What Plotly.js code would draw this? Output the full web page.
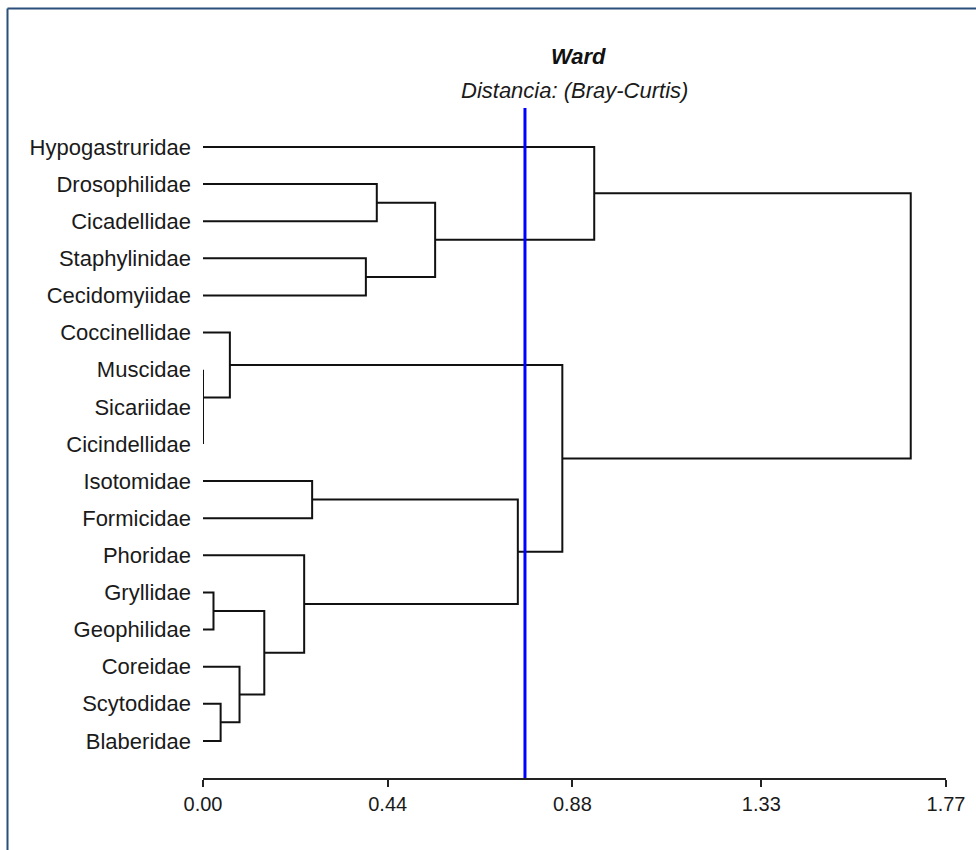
<!DOCTYPE html>
<html>
<head>
<meta charset="utf-8">
<script src="https://cdn.plot.ly/plotly-3.0.1.min.js"></script>
<style>html,body{margin:0;padding:0;background:#fff;}#chart{width:976px;height:850px;}</style>
</head>
<body>
<div id="chart"></div>
<script>
// Leaf labels, top to bottom
const leafLabels = ["Hypogastruridae","Drosophilidae","Cicadellidae","Staphylinidae","Cecidomyiidae",
  "Coccinellidae","Muscidae","Sicariidae","Cicindellidae","Isotomidae","Formicidae","Phoridae",
  "Gryllidae","Geophilidae","Coreidae","Scytodidae","Blaberidae"];
// Merges: negative = leaf (-(index+1)), positive = earlier merge number (1-based)
const mergeLeft  = [-8, -7, -13, -16, -6, -15, 3, -12, -10, -4, -2, 11, 9, 5, -1, 15];
const mergeRight = [-9,  1, -14, -17,  2,   4, 6,   7, -11, -5, -3, 10, 8, 13, 12, 14];
const mergeHeight = [0.000, 0.000, 0.025, 0.042, 0.064, 0.087, 0.146, 0.241, 0.260, 0.388,
  0.414, 0.553, 0.750, 0.856, 0.932, 1.686];
const cutHeight = 0.767;
const tickVals = [0.00, 0.44, 0.88, 1.33, 1.77];
const tickText = ["0.00", "0.44", "0.88", "1.33", "1.77"];

// Build dendrogram segments
const pos = [], hgt = [];
function node(id) {
  if (id < 0) return {y: -id - 1, h: 0};
  return {y: pos[id - 1], h: hgt[id - 1]};
}
const xs = [], ys = [];
for (let k = 0; k < mergeHeight.length; k++) {
  const a = node(mergeLeft[k]), b = node(mergeRight[k]);
  const h = mergeHeight[k];
  xs.push(a.h, h, h, b.h, null);
  ys.push(a.y, a.y, b.y, b.y, null);
  pos.push((a.y + b.y) / 2);
  hgt.push(h);
}

const data = [{
  type: 'scatter', mode: 'lines', x: xs, y: ys,
  line: {color: '#111111', width: 2},
  hoverinfo: 'skip', showlegend: false
}];

const layout = {
  width: 976, height: 850,
  margin: {l: 203, r: 30, t: 108, b: 72},
  paper_bgcolor: '#ffffff', plot_bgcolor: '#ffffff',
  font: {family: 'Liberation Sans, Arial, sans-serif', color: '#1a1a1a'},
  title: {
    text: '<b><i>Ward</i></b>', font: {size: 22, color: '#111111'},
    xref: 'paper', x: 0.505, xanchor: 'center',
    yref: 'container', y: 1 - 56 / 850, yanchor: 'middle'
  },
  xaxis: {
    range: [0, 1.77], tickvals: tickVals, ticktext: tickText,
    showgrid: false, zeroline: false, showline: true, linecolor: '#222222', linewidth: 2,
    ticks: 'outside', ticklen: 7, tickwidth: 2, tickcolor: '#222222',
    tickfont: {size: 20, color: '#1a1a1a'}, fixedrange: true
  },
  yaxis: {
    range: [17.0, -1.05], tickvals: leafLabels.map((_, i) => i), ticktext: leafLabels,
    showgrid: false, zeroline: false, showline: false, ticks: '',
    ticklabelstandoff: 11,
    tickfont: {size: 22, color: '#1a1a1a'}, fixedrange: true
  },
  annotations: [{
    text: '<i>Distancia: (Bray-Curtis)</i>', showarrow: false,
    xref: 'paper', x: 0.5, xanchor: 'center',
    yref: 'paper', y: (778 - 90) / 670, yanchor: 'middle',
    font: {size: 22, color: '#1a1a1a'}
  }],
  shapes: [
    {type: 'line', xref: 'x', yref: 'paper', x0: cutHeight, x1: cutHeight, y0: 0, y1: 1,
     line: {color: '#0000ff', width: 3}},
    {type: 'line', xref: 'paper', yref: 'paper', x0: (7.5 - 203) / 743, x1: (976 - 203) / 743,
     y0: (778 - 8.5) / 670, y1: (778 - 8.5) / 670, line: {color: '#2b4f7a', width: 2}},
    {type: 'line', xref: 'paper', yref: 'paper', x0: (7.5 - 203) / 743, x1: (7.5 - 203) / 743,
     y0: (778 - 8.5) / 670, y1: (778 - 852) / 670, line: {color: '#2b4f7a', width: 2}}
  ]
};

Plotly.newPlot('chart', data, layout, {displayModeBar: false, staticPlot: true});
</script>
</body>
</html>
